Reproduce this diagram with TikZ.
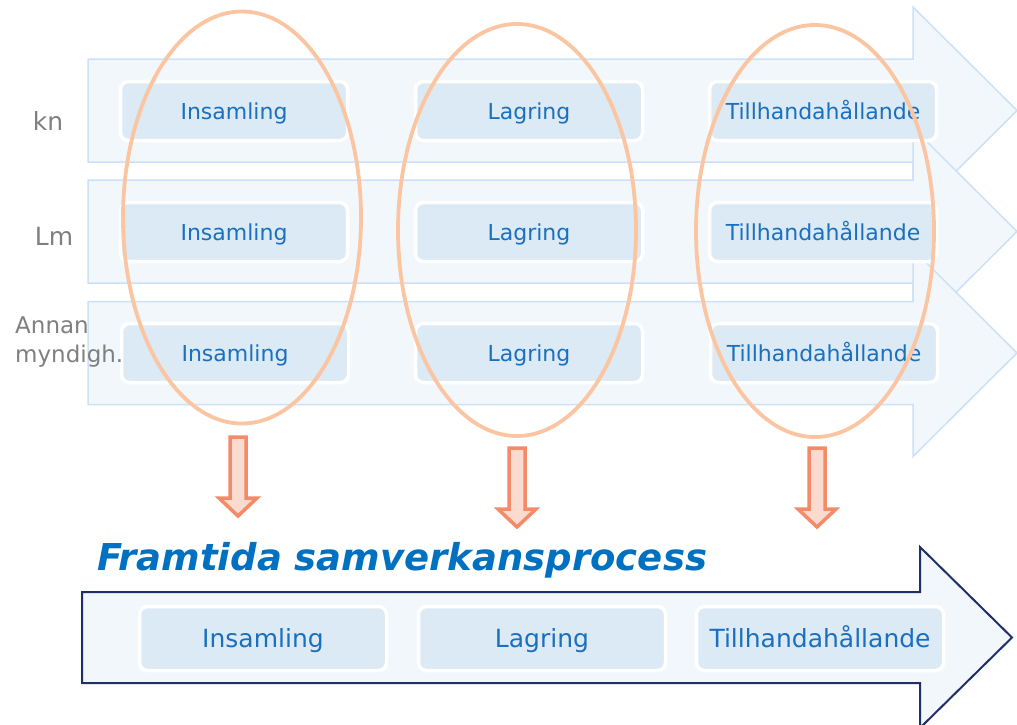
\documentclass[tikz,border=0pt]{standalone}
\usepackage{fontspec}
\setmainfont{DejaVu Sans}
\usetikzlibrary{shapes.geometric}

\definecolor{flowfill}{HTML}{F2F7FC}
\definecolor{flowline}{HTML}{CCE0F8}
\definecolor{stegfill}{HTML}{DBEAF4}
\definecolor{stegtext}{HTML}{1A6FBE}
\definecolor{ringline}{HTML}{FCC5A2}
\definecolor{nedline}{HTML}{F38B68}
\definecolor{nedfill}{HTML}{FBDBD0}
\definecolor{malline}{HTML}{1F2F68}
\definecolor{titel}{HTML}{0070C0}
\definecolor{etikett}{HTML}{7F7F7F}

\begin{document}
\begin{tikzpicture}[x=1pt,y=-1pt,
  flow/.style={draw=flowline,line width=1.5pt,fill=flowfill},
  steg/.style={rounded corners=8pt,fill=stegfill,draw=white,line width=3.5pt,
    minimum width=227pt,minimum height=59pt,inner sep=0pt,text=stegtext,
    font=\fontsize{22}{26}\selectfont,text height=16pt,text depth=0pt},
  ring/.style={ellipse,draw=ringline,line width=3.8pt,minimum width=238pt,
    minimum height=412pt,inner sep=0pt},
  ned/.style={draw=nedline,fill=nedfill,line width=3.5pt},
  etikett/.style={text=etikett,anchor=base}]
\clip (0,0) rectangle (1017,724);

% tre rader idag
\foreach \r in {110.5,231.5,353}
  \draw[flow] (88,\r-51.5) -- (913,\r-51.5) -- (913,\r-103.5) -- (1017,\r)
    -- (913,\r+103.5) -- (913,\r+51.5) -- (88,\r+51.5) -- cycle;

\node[steg] (kn1) at (234,111) {Insamling};
\node[steg] (kn2) at (529,111) {Lagring};
\node[steg] (kn3) at (823,111) {Tillhandahållande};
\node[steg] (lm1) at (234,232) {Insamling};
\node[steg] (lm2) at (529,232) {Lagring};
\node[steg] (lm3) at (823,232) {Tillhandahållande};
\node[steg] (am1) at (235,353) {Insamling};
\node[steg] (am2) at (529,353) {Lagring};
\node[steg] (am3) at (824,353) {Tillhandahållande};

% etiketter
\node[etikett,font=\fontsize{25}{30}\selectfont] (kn) at (48,130) {kn};
\node[etikett,font=\fontsize{25}{30}\selectfont] (lm) at (54,245) {Lm};
\node[etikett,anchor=base west,align=left,inner sep=0pt,
  font=\fontsize{23}{29}\selectfont] (am) at (15,362) {Annan\\myndigh.};

% ringar
\node[ring] (ring1) at (242,217.5) {};
\node[ring] (ring2) at (517,230) {};
\node[ring] (ring3) at (815,231) {};

% pilar nedåt
\foreach \x/\t in {238/437,517/448,817/448}
  \draw[ned] (\x-8,\t) -- (\x+8,\t) -- (\x+8,\t+61) -- (\x+19,\t+61) -- (\x,\t+79)
    -- (\x-19,\t+61) -- (\x-8,\t+61) -- cycle;

% framtida process
\node[anchor=base west,inner sep=0pt,text=titel,
  font=\fontsize{37}{44}\selectfont\bfseries\itshape] (titel) at (97,570)
  {Framtida samverkansprocess};
\draw[draw=malline,line width=2pt,fill=flowfill] (82,592) -- (920,592) -- (920,547)
  -- (1012,637.5) -- (920,728) -- (920,683) -- (82,683) -- cycle;
\node[steg,minimum width=247pt,minimum height=64pt,font=\fontsize{25}{30}\selectfont,
  text height=18pt] (ny1) at (263,638.5) {Insamling};
\node[steg,minimum width=247pt,minimum height=64pt,font=\fontsize{25}{30}\selectfont,
  text height=18pt] (ny2) at (542,638.5) {Lagring};
\node[steg,minimum width=247pt,minimum height=64pt,font=\fontsize{25}{30}\selectfont,
  text height=18pt] (ny3) at (820,638.5) {Tillhandahållande};
\end{tikzpicture}
\end{document}
